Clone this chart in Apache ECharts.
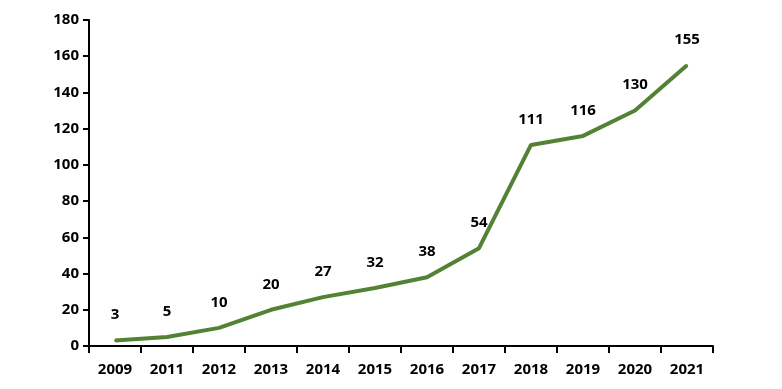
<!DOCTYPE html>
<html><head><meta charset="utf-8">
<script src="https://cdn.jsdelivr.net/npm/echarts@6/dist/echarts.min.js"></script>
<style>html,body{margin:0;padding:0;background:#fff}#c{width:782px;height:389px}</style>
</head><body><div id="c"></div>
<script>
const categories = ['2009','2011','2012','2013','2014','2015','2016','2017','2018','2019','2020','2021'];
const values = [3,5,10,20,27,32,38,54,111,116,130,155];
const yTicks = {min:0, max:180, interval:20};
const font = '"Open Sans", sans-serif';
const chart = echarts.init(document.getElementById('c'), null, {renderer:'canvas'});
chart.setOption({
  animation:false,
  grid:{left:89, right:69, top:20, bottom:43, containLabel:false},
  xAxis:{type:'category', data:categories, boundaryGap:true,
    axisLine:{lineStyle:{color:'#000', width:2}},
    axisTick:{show:true, length:7, lineStyle:{color:'#000', width:2}, alignWithLabel:false},
    axisLabel:{color:'#000', fontFamily:font, fontWeight:'bold', fontSize:15, margin:16}},
  yAxis:{type:'value', min:yTicks.min, max:yTicks.max, interval:yTicks.interval,
    splitLine:{show:false},
    axisLine:{show:true, lineStyle:{color:'#000', width:2}},
    axisTick:{show:true, length:6, lineStyle:{color:'#000', width:2}},
    axisLabel:{color:'#000', fontFamily:font, fontWeight:'bold', fontSize:15, margin:10}},
  series:[{type:'line', data:values, symbol:'circle', symbolSize:2, showSymbol:true,
    itemStyle:{color:'#548235'},
    lineStyle:{color:'#548235', width:4},
    label:{show:true, position:'top', distance:17, color:'#000', fontFamily:font, fontWeight:'bold', fontSize:15}}]
});
</script></body></html>
